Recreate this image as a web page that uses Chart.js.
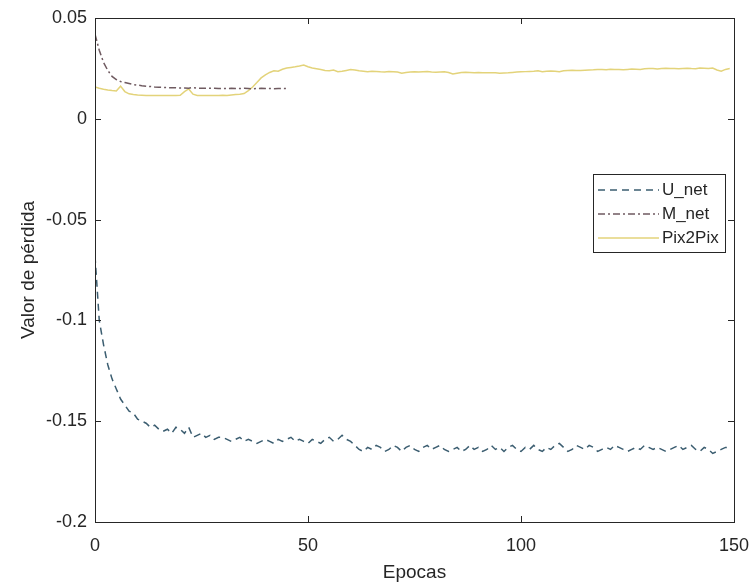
<!DOCTYPE html>
<html lang="es">
<head>
<meta charset="UTF-8">
<title>Valor de pérdida</title>
<script src="https://cdn.jsdelivr.net/npm/chart.js"></script>
<style>
  body { margin: 0; background: #fff; }
</style>
</head>
<body>
<canvas id="lossChart" width="755" height="584"></canvas>
<script>
// datos (epoca = indice)
const seriesNames = ['U_net', 'M_net', 'Pix2Pix'];
const xTicks = [0, 50, 100, 150];
const yTicks = [0.05, 0, -0.05, -0.1, -0.15, -0.2];

const uNet = [
  -0.068, -0.100, -0.112, -0.122, -0.129, -0.134, -0.139, -0.142, -0.145, -0.146,
  -0.149, -0.150, -0.151, -0.153, -0.152, -0.154, -0.155, -0.154, -0.156, -0.153,
  -0.154, -0.156, -0.153, -0.158, -0.157, -0.156, -0.158, -0.157, -0.159, -0.158,
  -0.158, -0.159, -0.160, -0.159, -0.158, -0.160, -0.159, -0.160, -0.161, -0.160,
  -0.159, -0.160, -0.161, -0.159, -0.160, -0.159, -0.158, -0.160, -0.159, -0.160,
  -0.161, -0.159, -0.160, -0.161, -0.159, -0.158, -0.160, -0.159, -0.157, -0.159,
  -0.160, -0.162, -0.164, -0.165, -0.163, -0.164, -0.162, -0.163, -0.165, -0.164,
  -0.162, -0.163, -0.165, -0.163, -0.162, -0.164, -0.165, -0.163, -0.162, -0.164,
  -0.163, -0.162, -0.164, -0.165, -0.164, -0.163, -0.165, -0.164, -0.162, -0.164,
  -0.163, -0.165, -0.164, -0.162, -0.164, -0.163, -0.165, -0.163, -0.162, -0.164,
  -0.165, -0.163, -0.164, -0.162, -0.164, -0.165, -0.163, -0.164, -0.162, -0.161,
  -0.163, -0.165, -0.164, -0.162, -0.163, -0.164, -0.162, -0.163, -0.165, -0.164,
  -0.163, -0.164, -0.162, -0.163, -0.164, -0.165, -0.164, -0.163, -0.164, -0.162,
  -0.163, -0.164, -0.163, -0.164, -0.165, -0.164, -0.163, -0.162, -0.164, -0.163,
  -0.162, -0.164, -0.165, -0.163, -0.164, -0.166, -0.165, -0.164, -0.163, -0.163
];

const mNet = [
  0.042, 0.034, 0.028, 0.024, 0.021, 0.0195, 0.0185, 0.018, 0.0175, 0.017,
  0.0167, 0.0164, 0.0162, 0.016, 0.0158, 0.0157, 0.0156, 0.0155, 0.0154, 0.0154,
  0.0153, 0.0153, 0.0152, 0.0155, 0.0152, 0.0151, 0.0151, 0.0152, 0.0151, 0.0150,
  0.0151, 0.0150, 0.0151, 0.0150, 0.0150, 0.0151, 0.0150, 0.0149, 0.0150, 0.0151,
  0.0150, 0.0150, 0.0149, 0.0150, 0.0151, 0.0150
];

const pix2pix = [
  0.0158, 0.0152, 0.0147, 0.0143, 0.0140, 0.0138, 0.0162, 0.0135, 0.0124, 0.0120,
  0.0118, 0.0117, 0.0116, 0.0116, 0.0115, 0.0115, 0.0116, 0.0115, 0.0115, 0.0116,
  0.0117, 0.0135, 0.0148, 0.0122, 0.0116, 0.0115, 0.0115, 0.0116, 0.0115, 0.0116,
  0.0117, 0.0116, 0.0118, 0.0120, 0.0122, 0.0125, 0.0140, 0.0158, 0.0180, 0.0203,
  0.0218, 0.0230, 0.0238, 0.0236, 0.0246, 0.0252, 0.0255, 0.0258, 0.0262, 0.0267,
  0.0258, 0.0252, 0.0248, 0.0244, 0.0240, 0.0238, 0.0242, 0.0234, 0.0236, 0.0240,
  0.0244, 0.0242, 0.0238, 0.0236, 0.0234, 0.0236, 0.0235, 0.0233, 0.0232, 0.0234,
  0.0233, 0.0232, 0.0226, 0.0230, 0.0232, 0.0233, 0.0232, 0.0233, 0.0234, 0.0232,
  0.0231, 0.0232, 0.0233, 0.0230, 0.0222, 0.0226, 0.0230, 0.0231, 0.0230, 0.0229,
  0.0230, 0.0229, 0.0228, 0.0229, 0.0228, 0.0226, 0.0227, 0.0228, 0.0230, 0.0232,
  0.0233, 0.0234, 0.0235, 0.0236, 0.0238, 0.0234, 0.0236, 0.0237, 0.0236, 0.0233,
  0.0238, 0.0240, 0.0241, 0.0240, 0.0239, 0.0241, 0.0242, 0.0243, 0.0245, 0.0244,
  0.0243, 0.0246, 0.0245, 0.0244, 0.0243, 0.0245, 0.0247, 0.0246, 0.0245, 0.0248,
  0.0250, 0.0249, 0.0247, 0.0250, 0.0251, 0.0250, 0.0249, 0.0248, 0.0250, 0.0251,
  0.0249, 0.0248, 0.0252, 0.0251, 0.0250, 0.0252, 0.0242, 0.0236, 0.0245, 0.0250
];

const axisColor = '#262626';
const fontFamily = '"Liberation Sans", Arial, sans-serif';

function toPoints(arr) {
  return arr.map((v, i) => ({ x: i, y: v }));
}

// marco tipo matlab con ticks hacia dentro
const boxPlugin = {
  id: 'boxFrame',
  afterDatasetsDraw(chart) {
    const ctx = chart.ctx;
    const a = chart.chartArea;
    const xs = chart.scales.x, ys = chart.scales.y;
    ctx.save();
    ctx.strokeStyle = axisColor;
    ctx.lineWidth = 1;
    ctx.strokeRect(a.left + 0.5, a.top + 0.5, a.right - a.left, a.bottom - a.top);
    ctx.beginPath();
    xTicks.forEach(t => {
      const px = Math.round(xs.getPixelForValue(t)) + 0.5;
      ctx.moveTo(px, a.bottom); ctx.lineTo(px, a.bottom - 6);
      ctx.moveTo(px, a.top); ctx.lineTo(px, a.top + 6);
    });
    yTicks.forEach(t => {
      const py = Math.round(ys.getPixelForValue(t)) + 0.5;
      ctx.moveTo(a.left, py); ctx.lineTo(a.left + 6, py);
      ctx.moveTo(a.right, py); ctx.lineTo(a.right - 6, py);
    });
    ctx.stroke();
    ctx.restore();
  }
};

// leyenda dentro del area
const legendPlugin = {
  id: 'boxLegend',
  afterDraw(chart) {
    const ctx = chart.ctx;
    const a = chart.chartArea;
    const w = 132, h = 78;
    const left = a.right - 9 - w;
    const top = a.top + 156;
    ctx.save();
    ctx.fillStyle = '#fff';
    ctx.fillRect(left, top, w, h);
    ctx.strokeStyle = axisColor;
    ctx.lineWidth = 1;
    ctx.strokeRect(left + 0.5, top + 0.5, w, h);
    ctx.font = '17px ' + fontFamily;
    ctx.textBaseline = 'middle';
    chart.data.datasets.forEach((ds, i) => {
      const y = top + 16 + i * 24;
      ctx.beginPath();
      ctx.strokeStyle = ds.borderColor;
      ctx.lineWidth = ds.borderWidth;
      ctx.setLineDash(ds.borderDash || []);
      ctx.moveTo(left + 5, y);
      ctx.lineTo(left + 66, y);
      ctx.stroke();
      ctx.setLineDash([]);
      ctx.fillStyle = axisColor;
      ctx.fillText(ds.label, left + 69, y);
    });
    ctx.restore();
  }
};

new Chart(document.getElementById('lossChart'), {
  type: 'line',
  data: {
    datasets: [
      {
        label: seriesNames[0],
        data: toPoints(uNet),
        borderColor: '#3b5d70',
        borderWidth: 1.5,
        borderDash: [7, 5],
        pointRadius: 0
      },
      {
        label: seriesNames[1],
        data: toPoints(mNet),
        borderColor: '#6f5a60',
        borderWidth: 1.5,
        borderDash: [7, 3, 2, 3],
        pointRadius: 0
      },
      {
        label: seriesNames[2],
        data: toPoints(pix2pix),
        borderColor: '#e3d37a',
        borderWidth: 1.5,
        pointRadius: 0
      }
    ]
  },
  options: {
    responsive: false,
    animation: false,
    layout: { padding: { top: 18, right: 21, left: 0, bottom: 0 } },
    plugins: {
      legend: { display: false },
      tooltip: { enabled: false }
    },
    scales: {
      x: {
        type: 'linear',
        min: 0,
        max: 150,
        afterBuildTicks: s => { s.ticks = xTicks.map(v => ({ value: v })); },
        afterFit: s => { s.height = 62; s.paddingLeft = 0; s.paddingRight = 0; },
        grid: { display: false, drawTicks: false },
        border: { display: false },
        ticks: {
          color: axisColor,
          font: { family: fontFamily, size: 18 },
          padding: 13,
          maxRotation: 0
        },
        title: {
          display: true,
          text: 'Epocas',
          color: axisColor,
          font: { family: fontFamily, size: 19 },
          padding: { top: 0, bottom: 0 }
        }
      },
      y: {
        type: 'linear',
        min: -0.2,
        max: 0.05,
        afterBuildTicks: s => { s.ticks = yTicks.map(v => ({ value: v })); },
        afterFit: s => { s.width = 95; s.paddingTop = 0; s.paddingBottom = 0; },
        grid: { display: false, drawTicks: false },
        border: { display: false },
        ticks: {
          color: axisColor,
          font: { family: fontFamily, size: 18 },
          padding: 8,
          callback: v => String(Math.round(v * 100) / 100)
        },
        title: {
          display: true,
          text: 'Valor de pérdida',
          color: axisColor,
          font: { family: fontFamily, size: 19 },
          padding: { top: 17, bottom: 0 }
        }
      }
    }
  },
  plugins: [boxPlugin, legendPlugin]
});
</script>
</body>
</html>
